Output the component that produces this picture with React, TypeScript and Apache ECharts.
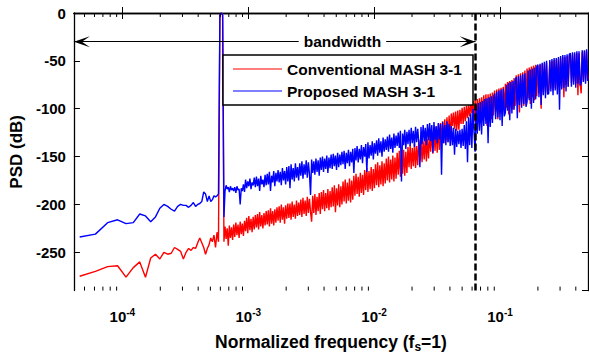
import React, { useEffect, useRef } from "react";
import * as echarts from "echarts";

const FONT = '"Liberation Sans", Arial, Helvetica, sans-serif';

// FFT length (bin k -> normalized frequency k / N_FFT)
const N_FFT = 65536;

// low-frequency bins, one value per bin
const lowBins = [
  3, 4, 5, 6, 7, 8, 9, 10, 11, 12, 13, 14, 15, 16, 17, 18, 19, 20, 21, 22,
  23, 24, 25, 26, 27, 28, 29, 30, 31, 32, 33, 34, 35, 36, 37, 38, 39, 40, 41,
];
const blueLow = [
  -234, -231, -219, -216, -220, -219, -210, -212, -218, -213, -204, -200, -202,
  -205, -207, -202, -200, -201, -201, -203, -201, -198, -202, -200, -199, -197,
  -187, -189, -197, -191, -197, -195, -191, -192, -191, -189, -2, 0, -2,
];
const redLow = [
  -275, -270, -265, -264, -276, -266, -260, -276, -256, -252, -257, -250, -252,
  -251, -245, -247, -249, -257, -250, -246, -248, -245, -246, -240, -235, -240,
  -245, -252, -246, -242, -235, -239, -232, -245, -229, -239, -2, 0, -2,
];

// higher bins are shown decimated on a geometric grid starting at bin 42
const hiBinStart = 42;
const hiBinRatio = 1.02;
const blueHigh = [
  -213, -186, -180, -184, -182, -187, -181, -185, -183, -186,
  -182, -188, -181, -185, -184, -200, -183, -186, -179, -187,
  -174, -183, -176, -181, -173, -184, -177, -180, -172, -182,
  -171, -181, -173, -186, -170, -179, -174, -182, -169, -180,
  -168, -179, -166, -186, -170, -177, -165, -181, -167, -176,
  -164, -177, -166, -180, -162, -175, -165, -179, -161, -176,
  -160, -183, -158, -174, -162, -176, -157, -172, -161, -175,
  -157, -170, -155, -173, -158, -169, -154, -172, -156, -168,
  -190, -153, -167, -155, -169, -152, -166, -154, -170, -151,
  -164, -150, -166, -152, -163, -149, -167, -151, -162, -148,
  -163, -147, -160, -149, -164, -146, -161, -148, -159, -145,
  -158, -144, -163, -146, -157, -143, -160, -145, -156, -142,
  -167, -141, -154, -139, -156, -142, -153, -138, -157, -140,
  -150, -137, -166, -135, -152, -138, -149, -134, -153, -136,
  -147, -133, -149, -131, -146, -134, -150, -130, -145, -132,
  -143, -129, -145, -127, -142, -130, -146, -126, -141, -128,
  -139, -125, -141, -123, -176, -126, -138, -122, -142, -124,
  -137, -122, -139, -120, -136, -123, -140, -119, -135, -121,
  -135, -161, -119, -137, -117, -134, -120, -138, -116, -133,
  -115, -134, -117, -146, -114, -133, -118, -136, -115, -132,
  -116, -169, -114, -136, -117, -138, -113, -135, -116, -139,
  -118, -138, -120, -148, -121, -140, -123, -137, -122, -141,
  -121, -139, -117, -142, -113, -156, -109, -138, -105, -141,
  -100, -124, -145, -96, -126, -94, -123, -93, -127, -92,
  -118, -90, -116, -89, -136, -88, -119, -87, -115, -88,
  -84, -111, -82, -109, -81, -112, -80, -118, -79, -108,
  -104, -75, -102, -73, -112, -72, -105, -71, -101, -70,
  -67, -110, -66, -96, -65, -99, -64, -95, -63, -98,
  -93, -60, -91, -59, -100, -58, -94, -57, -90, -56,
  -54, -88, -53, -96, -52, -86, -51, -89, -50, -85,
  -84, -49, -82, -48, -86, -47, -81, -47, -85, -46,
  -101, -45, -80, -44, -78, -44, -82, -43, -77, -43,
  -42, -77, -41, -75, -41, -78, -40, -74, -40, -76,
  -73, -39, -72, -39, -74, -38, -71,
];
const redHigh = [
  -239, -223, -236, -225, -243, -222, -235, -224, -237, -221,
  -234, -219, -232, -221, -235, -218, -231, -220, -233, -217,
  -228, -214, -230, -212, -227, -215, -229, -213, -226, -211,
  -224, -210, -226, -208, -223, -211, -225, -209, -222, -207,
  -221, -206, -223, -204, -220, -207, -222, -205, -219, -203,
  -217, -202, -219, -200, -216, -203, -220, -201, -215, -199,
  -214, -199, -216, -197, -213, -200, -215, -196, -212, -198,
  -211, -195, -213, -193, -210, -196, -212, -192, -209, -194,
  -208, -218, -191, -209, -189, -211, -192, -207, -188, -210,
  -187, -205, -185, -207, -188, -204, -184, -206, -186, -203,
  -182, -202, -180, -208, -183, -201, -179, -203, -181, -200,
  -176, -197, -174, -199, -177, -196, -173, -198, -175, -195,
  -170, -191, -168, -189, -171, -192, -167, -188, -169, -190,
  -164, -185, -162, -187, -165, -184, -161, -186, -163, -183,
  -158, -180, -156, -182, -159, -179, -155, -181, -157, -178,
  -152, -175, -150, -177, -153, -174, -149, -176, -151, -173,
  -146, -169, -144, -171, -147, -168, -143, -170, -145, -167,
  -140, -161, -138, -163, -141, -160, -137, -162, -139, -159,
  -133, -154, -131, -156, -134, -153, -129, -155, -132, -152,
  -126, -145, -123, -147, -121, -144, -119, -146, -118, -143,
  -115, -134, -113, -136, -111, -133, -109, -135, -107, -132,
  -105, -118, -104, -121, -103, -123, -102, -122, -101, -116,
  -99, -116, -98, -113, -97, -110, -96, -108, -95, -105,
  -92, -114, -91, -121, -90, -113, -89, -115, -88, -112,
  -86, -109, -85, -118, -85, -108, -84, -111, -83, -107,
  -81, -103, -80, -111, -79, -102, -78, -105, -77, -101,
  -74, -99, -72, -106, -71, -98, -70, -101, -68, -97,
  -65, -95, -64, -104, -63, -94, -62, -97, -60, -93,
  -58, -89, -57, -95, -56, -88, -55, -91, -54, -87,
  -55, -84, -54, -100, -53, -83, -53, -82, -52, -84,
  -80, -51, -79, -50, -81, -49, -78, -49, -80, -48,
  -76, -47, -78, -46, -88, -46, -75, -45, -77, -45,
  -44, -73, -43, -72, -43, -74, -42, -86, -42, -73,
  -84, -41, -70, -40, -71, -40, -69,
];

// axes
const xMin = 4.12e-5;
const xMax = 0.5;
const yMin = -290;
const yMax = 0;
const decadeTicks = [1e-4, 1e-3, 1e-2, 1e-1];
const minorTicks = [
  5e-5, 6e-5, 7e-5, 8e-5, 9e-5,
  2e-4, 3e-4, 4e-4, 5e-4, 6e-4, 7e-4, 8e-4, 9e-4,
  2e-3, 3e-3, 4e-3, 5e-3, 6e-3, 7e-3, 8e-3, 9e-3,
  2e-2, 3e-2, 4e-2, 5e-2, 6e-2, 7e-2, 8e-2, 9e-2,
  2e-1, 3e-1, 4e-1,
];

// annotation
const bandwidthEdge = 0.064;
const bandwidthLevel = -30;
const bandwidthLabelFreq = 5.6e-3;
const bandwidthText = "bandwidth";
const seriesNames = ["Conventional MASH 3-1", "Proposed MASH 3-1"];
const seriesColors = ["#ff0000", "#0000ff"];

const hiBins = blueHigh.map((_, i) => hiBinStart * Math.pow(hiBinRatio, i));

function toPairs(bins: number[], vals: number[]) {
  return vals.map((v, i) => [bins[i] / N_FFT, v]);
}

const ARROW = "path://M5,0L10,16L5,8L0,16Z";

export default function App() {
  const ref = useRef<HTMLDivElement>(null);

  useEffect(() => {
    if (!ref.current) return;
    const chart = echarts.init(ref.current, undefined, { renderer: "svg" });

    const redData = [...toPairs(lowBins, redLow), ...toPairs(hiBins, redHigh)];
    const blueData = [...toPairs(lowBins, blueLow), ...toPairs(hiBins, blueHigh)];

    const isDecade = (v: number) =>
      decadeTicks.some((d) => Math.abs(Math.log10(v) - Math.log10(d)) < 1e-6);

    const axisLine = { show: true, lineStyle: { color: "#000", width: 1.3 } };
    const tickStyle = { color: "#000", width: 1 };

    const option: any = {
      animation: false,
      backgroundColor: "#fff",
      grid: { left: 70, right: 1, top: 13, bottom: 55, containLabel: false },
      xAxis: [
        {
          type: "log",
          logBase: 10,
          min: xMin,
          max: xMax,
          position: "bottom",
          axisLine,
          axisTick: { show: true, inside: true, length: 6, lineStyle: tickStyle },
          splitLine: { show: false },
          axisLabel: {
            margin: 17,
            showMinLabel: false,
            showMaxLabel: false,
            formatter: (v: number) => {
              if (!isDecade(v)) return "";
              const e = Math.round(Math.log10(v));
              return `{b|10}{s|${e}}`;
            },
            rich: {
              b: {
                fontSize: 15,
                fontWeight: "bold",
                fontFamily: FONT,
                color: "#000",
                lineHeight: 18,
              },
              s: {
                fontSize: 10,
                fontWeight: "bold",
                fontFamily: FONT,
                color: "#000",
                lineHeight: 18,
                padding: [0, 0, 9, 0],
              },
            },
          },
          name: "{n|Normalized frequency (f}{sub|s}{n|=1)}",
          nameLocation: "middle",
          nameGap: 33,
          nameTextStyle: {
            rich: {
              n: {
                fontSize: 17.5,
                fontWeight: "bold",
                fontFamily: FONT,
                color: "#000",
                lineHeight: 22,
              },
              sub: {
                fontSize: 12,
                fontWeight: "bold",
                fontFamily: FONT,
                color: "#000",
                lineHeight: 22,
                padding: [10, 0, 0, 0],
              },
            },
          },
        },
        {
          type: "log",
          logBase: 10,
          min: xMin,
          max: xMax,
          position: "top",
          axisLine,
          axisTick: { show: true, inside: true, length: 6, lineStyle: tickStyle },
          axisLabel: { show: false },
          splitLine: { show: false },
        },
      ],
      yAxis: [
        {
          type: "value",
          min: yMin,
          max: yMax,
          splitNumber: 5,
          position: "left",
          axisLine,
          axisTick: { show: true, inside: true, length: 6, lineStyle: tickStyle },
          splitLine: { show: false },
          axisLabel: {
            margin: 8,
            showMinLabel: false,
            fontSize: 15,
            fontWeight: "bold",
            fontFamily: FONT,
            color: "#000",
          },
          name: "PSD (dB)",
          nameLocation: "middle",
          nameGap: 48,
          nameTextStyle: {
            fontSize: 17,
            fontWeight: "bold",
            fontFamily: FONT,
            color: "#000",
          },
        },
        {
          type: "value",
          min: yMin,
          max: yMax,
          splitNumber: 5,
          position: "right",
          axisLine,
          axisTick: { show: true, inside: true, length: 6, lineStyle: tickStyle },
          axisLabel: { show: false },
          splitLine: { show: false },
        },
      ],
      series: [
        {
          name: seriesNames[0],
          type: "line",
          data: redData,
          showSymbol: false,
          symbol: "none",
          lineStyle: { color: seriesColors[0], width: 1.4 },
          itemStyle: { color: seriesColors[0] },
          z: 2,
          silent: true,
        },
        {
          name: seriesNames[1],
          type: "line",
          data: blueData,
          showSymbol: false,
          symbol: "none",
          lineStyle: { color: seriesColors[1], width: 1.4 },
          itemStyle: { color: seriesColors[1] },
          z: 3,
          silent: true,
        },
        {
          type: "custom",
          silent: true,
          data: minorTicks.map((f) => [f, yMin]),
          z: 4,
          renderItem: (_params: any, api: any) => {
            const f = api.value(0);
            const b = api.coord([f, yMin]);
            const t = api.coord([f, yMax]);
            return {
              type: "group",
              children: [
                {
                  type: "line",
                  shape: { x1: b[0], y1: b[1], x2: b[0], y2: b[1] - 4 },
                  style: { stroke: "#000", lineWidth: 1 },
                },
                {
                  type: "line",
                  shape: { x1: t[0], y1: t[1], x2: t[0], y2: t[1] + 4 },
                  style: { stroke: "#000", lineWidth: 1 },
                },
              ],
            };
          },
        },
        {
          type: "line",
          data: [],
          z: 5,
          silent: true,
          markLine: {
            silent: true,
            animation: false,
            label: { show: false },
            data: [
              [
                {
                  coord: [bandwidthEdge, yMin],
                  symbol: "none",
                  lineStyle: { color: "#000", width: 2.5, type: [7, 3] },
                },
                { coord: [bandwidthEdge, yMax], symbol: "none" },
              ],
              [
                {
                  coord: [xMin, bandwidthLevel],
                  symbol: ARROW,
                  symbolSize: [11, 16],
                  symbolOffset: [0, 8],
                  lineStyle: { color: "#000", width: 1, type: "solid" },
                },
                {
                  coord: [bandwidthEdge, bandwidthLevel],
                  symbol: ARROW,
                  symbolSize: [11, 16],
                  symbolOffset: [0, 8],
                },
              ],
            ],
          },
        },
        {
          type: "line",
          data: [],
          z: 10,
          silent: true,
          markPoint: {
            silent: true,
            animation: false,
            symbol: "rect",
            symbolSize: 0,
            data: [{ name: bandwidthText, coord: [bandwidthLabelFreq, bandwidthLevel] }],
            label: {
              show: true,
              position: "inside",
              formatter: "{b}",
              backgroundColor: "#fff",
              padding: [1, 5],
              color: "#000",
              fontSize: 15.5,
              fontWeight: "bold",
              fontFamily: FONT,
            },
          },
        },
      ],
      graphic: [
        {
          type: "rect",
          z: 100,
          shape: { x: 223, y: 55, width: 250, height: 50 },
          style: { fill: "#fff", stroke: "#000", lineWidth: 1.5 },
        },
        ...seriesNames.flatMap((name, i) => [
          {
            type: "line",
            z: 101,
            shape: { x1: 233, y1: 69 + i * 22, x2: 282, y2: 69 + i * 22 },
            style: { stroke: seriesColors[i], lineWidth: 1.2 },
          },
          {
            type: "text",
            z: 101,
            x: 287,
            y: 69 + i * 22,
            style: {
              text: name,
              fill: "#000",
              fontSize: 15.5,
              fontWeight: "bold",
              fontFamily: FONT,
              align: "left",
              verticalAlign: "middle",
            },
          },
        ]),
      ],
    };

    chart.setOption(option);
    return () => chart.dispose();
  }, []);

  return (
    <div
      ref={ref}
      style={{ position: "absolute", left: 0, top: 0, width: 589, height: 358, background: "#fff" }}
    />
  );
}
